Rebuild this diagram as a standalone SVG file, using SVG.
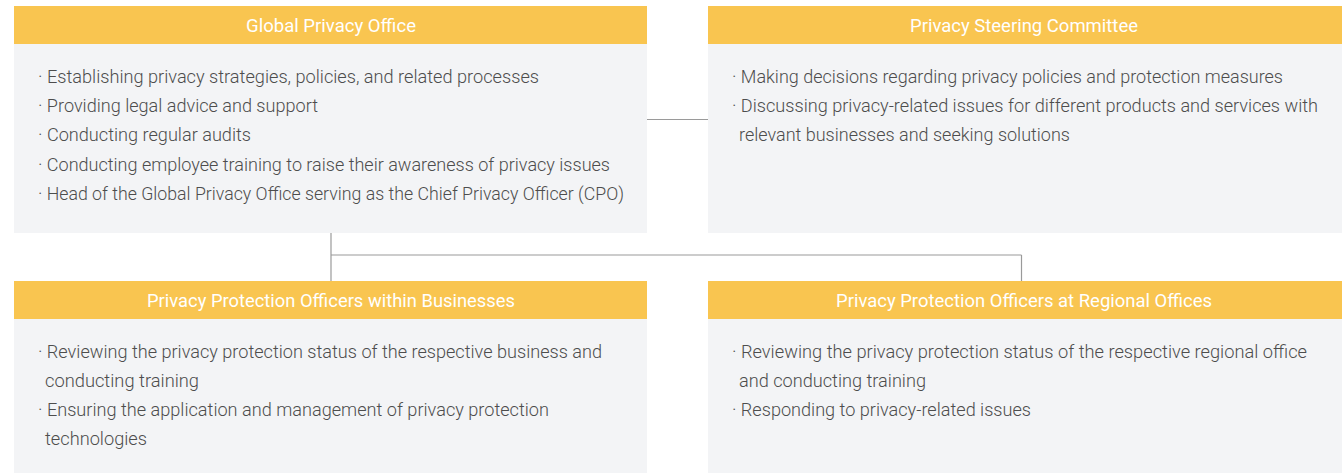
<svg xmlns="http://www.w3.org/2000/svg" width="1342" height="473" viewBox="0 0 1342 473">
<style>
.hd{fill:#F9C550}
.bd{fill:#F3F4F6}
.ht{font-family:Roboto,"Liberation Sans",sans-serif;font-size:18.5px;fill:#ffffff;text-anchor:middle}
.tx{font-family:Roboto,"Liberation Sans",sans-serif;font-size:19px;font-weight:300;fill:#4d4d4d}
.ln{stroke:#9a9a9a;stroke-width:1.2;fill:none}
</style>
<rect width="1342" height="473" fill="#ffffff"/>
<g id="connectors">
<line class="ln" x1="647" y1="119.5" x2="708" y2="119.5"/>
<line class="ln" x1="331" y1="233" x2="331" y2="281"/>
<line class="ln" x1="331" y1="255" x2="1021.5" y2="255"/>
<line class="ln" x1="1021.5" y1="255" x2="1021.5" y2="281"/>
</g>
<g id="global-privacy-office">
<rect class="bd" x="14" y="44" width="633" height="189"/>
<rect class="hd" x="14" y="6" width="633" height="38"/>
<text class="ht" x="331" y="32" textLength="170" lengthAdjust="spacingAndGlyphs">Global Privacy Office</text>
<text class="tx" x="38" y="83" textLength="501" lengthAdjust="spacingAndGlyphs">· Establishing privacy strategies, policies, and related processes</text>
<text class="tx" x="38" y="112" textLength="280" lengthAdjust="spacingAndGlyphs">· Providing legal advice and support</text>
<text class="tx" x="38" y="141" textLength="213" lengthAdjust="spacingAndGlyphs">· Conducting regular audits</text>
<text class="tx" x="38" y="171" textLength="572" lengthAdjust="spacingAndGlyphs">· Conducting employee training to raise their awareness of privacy issues</text>
<text class="tx" x="38" y="200" textLength="586" lengthAdjust="spacingAndGlyphs">· Head of the Global Privacy Office serving as the Chief Privacy Officer (CPO)</text>
</g>
<g id="privacy-steering-committee">
<rect class="bd" x="708" y="44" width="634" height="189"/>
<rect class="hd" x="708" y="6" width="634" height="38"/>
<text class="ht" x="1024" y="32" textLength="228" lengthAdjust="spacingAndGlyphs">Privacy Steering Committee</text>
<text class="tx" x="732" y="83" textLength="551" lengthAdjust="spacingAndGlyphs">· Making decisions regarding privacy policies and protection measures</text>
<text class="tx" x="732" y="112" textLength="586" lengthAdjust="spacingAndGlyphs">· Discussing privacy-related issues for different products and services with</text>
<text class="tx" x="739" y="141" textLength="331" lengthAdjust="spacingAndGlyphs">relevant businesses and seeking solutions</text>
</g>
<g id="officers-within-businesses">
<rect class="bd" x="14" y="319" width="633" height="154"/>
<rect class="hd" x="14" y="281" width="633" height="38"/>
<text class="ht" x="331" y="307" textLength="368" lengthAdjust="spacingAndGlyphs">Privacy Protection Officers within Businesses</text>
<text class="tx" x="38" y="358" textLength="564" lengthAdjust="spacingAndGlyphs">· Reviewing the privacy protection status of the respective business and</text>
<text class="tx" x="45" y="387" textLength="154" lengthAdjust="spacingAndGlyphs">conducting training</text>
<text class="tx" x="38" y="416" textLength="511" lengthAdjust="spacingAndGlyphs">· Ensuring the application and management of privacy protection</text>
<text class="tx" x="45" y="445" textLength="102" lengthAdjust="spacingAndGlyphs">technologies</text>
</g>
<g id="officers-at-regional-offices">
<rect class="bd" x="708" y="319" width="634" height="154"/>
<rect class="hd" x="708" y="281" width="634" height="38"/>
<text class="ht" x="1024" y="307" textLength="376" lengthAdjust="spacingAndGlyphs">Privacy Protection Officers at Regional Offices</text>
<text class="tx" x="732" y="358" textLength="575" lengthAdjust="spacingAndGlyphs">· Reviewing the privacy protection status of the respective regional office</text>
<text class="tx" x="739" y="387" textLength="187" lengthAdjust="spacingAndGlyphs">and conducting training</text>
<text class="tx" x="732" y="416" textLength="299" lengthAdjust="spacingAndGlyphs">· Responding to privacy-related issues</text>
</g>
</svg>
